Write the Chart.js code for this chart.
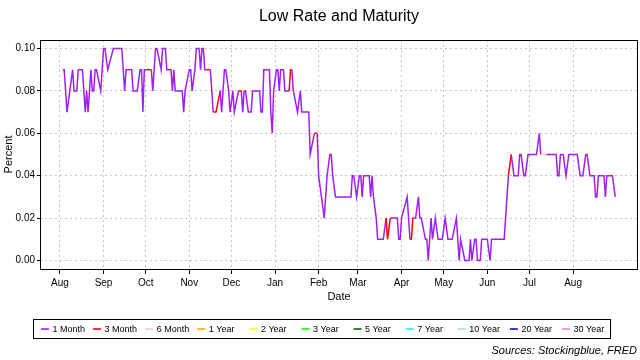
<!DOCTYPE html>
<html>
<head>
<meta charset="utf-8">
<script src="https://cdn.jsdelivr.net/npm/chart.js@4.4.1/dist/chart.umd.min.js"></script>
<style>
  html, body { margin: 0; padding: 0; background: #fff; }
  #wrap { width: 640px; height: 360px; }
</style>
</head>
<body>
<div id="wrap"><canvas id="lowRateChart" width="640" height="360"></canvas></div>
<script>
// Maturities shown in the legend and their colours
const maturities = ['1 Month', '3 Month', '6 Month', '1 Year', '2 Year', '3 Year', '5 Year', '7 Year', '10 Year', '20 Year', '30 Year'];
const maturityColors = ['#A020F0', '#FF0000', '#FFC0CB', '#FFA500', '#FFFF00', '#00FF00', '#006400', '#00FFFF', '#ADD8E6', '#0000FF', '#EE82EE'];

// x axis: days counted from 1 August
const monthStarts = [0, 31, 61, 92, 122, 153, 184, 212, 243, 273, 304, 334, 365];
const monthLabels = ['Aug', 'Sep', 'Oct', 'Nov', 'Dec', 'Jan', 'Feb', 'Mar', 'Apr', 'May', 'Jun', 'Jul', 'Aug'];
const yTicks = [0, 0.02, 0.04, 0.06, 0.08, 0.10];

// Lowest rate (percent) by day, and which maturity had it (index into maturities)
const days = [2, 3, 4, 5, 7, 9, 10, 12, 13, 16, 17, 18, 19, 20, 22, 23, 24, 25, 26, 29,
  30, 31, 32, 34, 38, 44, 45, 46, 47, 51, 52, 55, 57, 58, 59, 60, 61, 65, 66, 67,
  68, 69, 72, 73, 75, 76, 79, 80, 81, 82, 87, 88, 89, 92, 93, 94, 96, 97, 99, 100,
  101, 102, 103, 104, 107, 108, 109, 111, 114, 115, 117, 118, 120, 121, 123, 124, 127, 129, 130, 131,
  132, 134, 136, 137, 142, 143, 144, 145, 149, 150, 151, 152, 154, 155, 156, 157, 159, 160, 163, 164,
  165, 166, 169, 171, 172, 177, 178, 181, 183, 184, 186, 188, 189, 190, 192, 193, 194, 196, 207, 208,
  209, 211, 213, 214, 215, 216, 220, 221, 222, 223, 225, 226, 230, 232, 233, 235, 240, 241, 242, 243,
  247, 248, 249, 250, 251, 253, 255, 256, 257, 260, 261, 262, 264, 265, 267, 269, 272, 274, 276, 279,
  282, 283, 284, 285, 288, 291, 292, 293, 295, 296, 297, 299, 300, 304, 306, 307, 316, 317, 318, 319,
  321, 323, 326, 327, 328, 330, 331, 333, 339, 341, 342, 346, 347, 353, 354, 355, 356, 358, 360, 362,
  368, 370, 372, 374, 375, 377, 380, 381, 382, 383, 387, 388, 389, 393, 395];
const rates = [0.09, 0.09, 0.08, 0.07, 0.08, 0.09, 0.08, 0.08, 0.09, 0.09, 0.08, 0.07, 0.08, 0.07, 0.09, 0.08, 0.08, 0.09, 0.09, 0.08,
  0.09, 0.10, 0.10, 0.09, 0.10, 0.10, 0.09, 0.08, 0.09, 0.09, 0.08, 0.08, 0.09, 0.09, 0.07, 0.09, 0.09, 0.09, 0.08, 0.09,
  0.10, 0.10, 0.09, 0.10, 0.10, 0.09, 0.09, 0.08, 0.09, 0.08, 0.08, 0.07, 0.08, 0.09, 0.09, 0.08, 0.09, 0.10, 0.10, 0.09,
  0.10, 0.10, 0.09, 0.09, 0.09, 0.08, 0.07, 0.07, 0.08, 0.07, 0.09, 0.09, 0.08, 0.07, 0.08, 0.07, 0.08, 0.08, 0.07, 0.08,
  0.08, 0.07, 0.07, 0.08, 0.08, 0.07, 0.07, 0.09, 0.09, 0.07, 0.06, 0.08, 0.09, 0.09, 0.08, 0.09, 0.09, 0.08, 0.08, 0.09,
  0.09, 0.08, 0.07, 0.08, 0.07, 0.07, 0.05, 0.06, 0.06, 0.04, 0.03, 0.02, 0.03, 0.04, 0.05, 0.05, 0.04, 0.03, 0.03, 0.04,
  0.04, 0.03, 0.04, 0.04, 0.03, 0.04, 0.04, 0.03, 0.04, 0.03, 0.02, 0.01, 0.01, 0.02, 0.01, 0.02, 0.02, 0.01, 0.01, 0.02,
  0.03, 0.02, 0.01, 0.01, 0.02, 0.02, 0.03, 0.02, 0.02, 0.01, 0.01, 0.00, 0.02, 0.01, 0.02, 0.01, 0.01, 0.02, 0.01, 0.01,
  0.02, 0.01, 0.00, 0.01, 0.00, 0.00, 0.01, 0.00, 0.01, 0.01, 0.00, 0.00, 0.01, 0.01, 0.00, 0.01, 0.01, 0.02, 0.03, 0.04,
  0.05, 0.04, 0.04, 0.05, 0.05, 0.04, 0.04, 0.05, 0.05, 0.06, 0.05, 0.05, 0.05, 0.05, 0.04, 0.04, 0.05, 0.05, 0.04, 0.05,
  0.05, 0.04, 0.04, 0.05, 0.05, 0.04, 0.04, 0.03, 0.03, 0.04, 0.04, 0.03, 0.04, 0.04, 0.03];
const lowest = [0, 0, 0, 0, 0, 0, 0, 0, 0, 0, 0, 0, 0, 0, 0, 0, 0, 0, 0, 0,
  0, 0, 0, 0, 0, 0, 0, 0, 0, 0, 0, 0, 0, 0, 0, 0, 0, 1, 0, 0,
  0, 0, 0, 0, 0, 0, 0, 0, 0, 0, 0, 0, 0, 0, 0, 0, 0, 0, 0, 0,
  0, 0, 0, 0, 1, 0, 0, 1, 1, 0, 0, 0, 0, 0, 0, 0, 0, 1, 0, 0,
  0, 0, 0, 0, 0, 0, 0, 0, 0, 0, 0, 0, 0, 0, 0, 0, 0, 0, 0, 1,
  1, 0, 0, 0, 0, 0, 0, 0, 1, 0, 0, 0, 0, 0, 0, 0, 0, 0, 0, 0,
  0, 0, 0, 0, 0, 0, 0, 0, 0, 0, 0, 0, 0, 0, 1, 1, 0, 0, 0, 0,
  0, 0, 0, 1, 1, 0, 0, 0, 0, 0, 0, 0, 0, 0, 0, 0, 0, 0, 0, 0,
  0, 0, 0, 0, 0, 0, 0, 0, 0, 0, 0, 0, 0, 0, 0, 0, 0, 0, 0, 0,
  1, 0, 0, 0, 0, 0, 0, 0, 0, 0, 0, 2, 0, 0, 0, 0, 0, 0, 0, 0,
  0, 0, 0, 0, 0, 0, 0, 0, 0, 0, 0, 0, 0, 0, 0];

const fontFamily = "'Liberation Sans', Arial, sans-serif";
Chart.defaults.color = '#000';
Chart.defaults.font.family = fontFamily;

// Box round the plot, legend box and source note (R style)
const rDecor = {
  id: 'rDecor',
  afterDraw(chart) {
    const ctx = chart.ctx;
    const a = chart.chartArea;
    ctx.save();
    ctx.strokeStyle = '#000';
    ctx.lineWidth = 1;
    ctx.setLineDash([]);
    ctx.strokeRect(Math.round(a.left) + 0.5, Math.round(a.top) + 0.5,
      Math.round(a.right - a.left) - 1, Math.round(a.bottom - a.top));

    // legend
    ctx.strokeRect(33.5, 319.5, 577, 19);
    ctx.font = '9px ' + fontFamily;
    ctx.textBaseline = 'middle';
    ctx.textAlign = 'left';
    maturities.forEach(function (name, i) {
      const lx = 41 + i * 52.1;
      ctx.strokeStyle = maturityColors[i];
      ctx.lineWidth = 1.6;
      ctx.beginPath();
      ctx.moveTo(lx, 329);
      ctx.lineTo(lx + 8, 329);
      ctx.stroke();
      ctx.fillStyle = '#000';
      ctx.fillText(name, lx + 11.5, 329.5);
    });

    ctx.font = 'italic 11px ' + fontFamily;
    ctx.textAlign = 'right';
    ctx.fillText('Sources: Stockingblue, FRED', 637, 351);
    ctx.restore();
  }
};

var rateChart = document.getElementById('lowRateChart');
const myChart = new Chart(rateChart, {
  type: 'line',
  data: {
    datasets: [{
      label: 'Low Rate',
      data: days.map(function (d, i) { return { x: d, y: rates[i] }; }),
      borderColor: maturityColors[0],
      borderWidth: 1.5,
      pointRadius: 0,
      tension: 0,
      segment: {
        borderColor: function (c) { return maturityColors[lowest[c.p1DataIndex]]; }
      }
    }]
  },
  options: {
    responsive: false,
    animation: false,
    layout: { padding: { left: 0, right: 2, top: 0, bottom: 55 } },
    plugins: {
      legend: { display: false },
      tooltip: { enabled: false },
      title: {
        display: true,
        text: 'Low Rate and Maturity',
        fullSize: false,
        font: { size: 16, weight: 'normal' },
        padding: { top: 7, bottom: 13.8 }
      }
    },
    scales: {
      x: {
        type: 'linear',
        min: -14.2,
        max: 411.2,
        afterBuildTicks: function (axis) {
          axis.ticks = monthStarts.map(function (v) { return { value: v }; });
        },
        afterFit: function (axis) { axis.height = 36; },
        ticks: {
          autoSkip: false,
          maxRotation: 0,
          padding: 3,
          font: { size: 10 },
          callback: function (v) { return monthLabels[monthStarts.indexOf(v)]; }
        },
        grid: { color: '#c4c4c4', tickColor: '#000', tickLength: 5 },
        border: { display: false, dash: [2, 3] },
        title: { display: true, text: 'Date', font: { size: 11 }, padding: { top: 0, bottom: 1 } }
      },
      y: {
        min: -0.004,
        max: 0.104,
        afterBuildTicks: function (axis) {
          axis.ticks = yTicks.map(function (v) { return { value: v }; });
        },
        afterFit: function (axis) { axis.width = 40; },
        ticks: {
          padding: 2,
          font: { size: 10 },
          callback: function (v) { return v.toFixed(2); }
        },
        grid: { color: '#c4c4c4', tickColor: '#000', tickLength: 3 },
        border: { display: false, dash: [2, 3] },
        title: { display: true, text: 'Percent', font: { size: 11 }, padding: { top: 2, bottom: 0 } }
      }
    }
  },
  plugins: [rDecor]
});
</script>
</body>
</html>
